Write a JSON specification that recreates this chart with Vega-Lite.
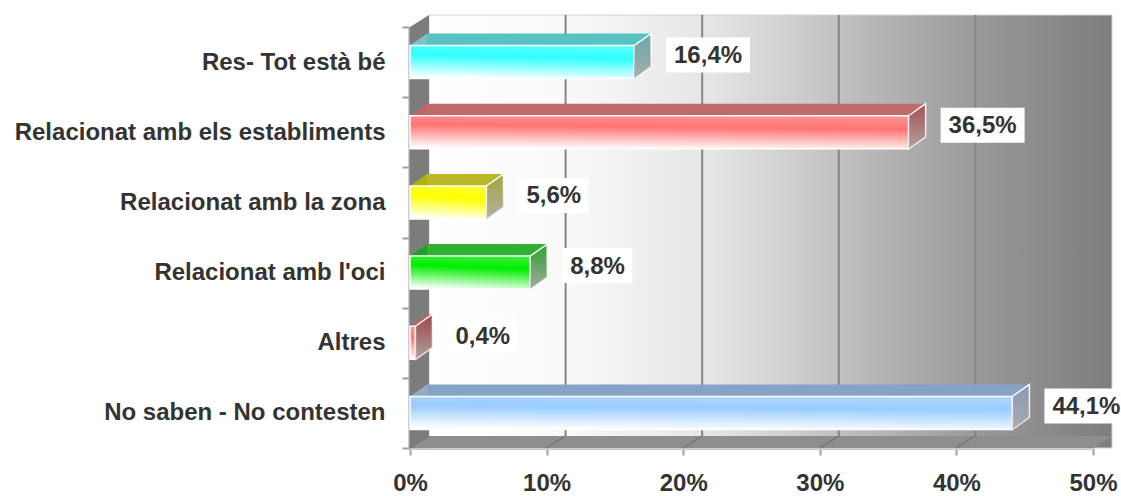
{
  "$schema": "https://vega.github.io/schema/vega-lite/v6.json",
  "width": 683,
  "height": 421,
  "autosize": {"type": "none"},
  "padding": {"left": 410, "top": 27, "right": 28, "bottom": 48},
  "background": "#ffffff",
  "config": {
    "view": {"stroke": null},
    "font": "Liberation Sans",
    "axisX": {
      "domainColor": "#c8c8c8",
      "domainWidth": 3,
      "tickColor": "#a0a0a0",
      "tickSize": 7,
      "tickWidth": 2,
      "labelFont": "Liberation Sans",
      "labelFontWeight": "bold",
      "labelFontSize": 24,
      "labelColor": "#333333",
      "labelPadding": 16,
      "labelFlush": false,
      "labelOverlap": false,
      "grid": false
    },
    "axisY": {
      "domainColor": "#a0a0a0",
      "domainWidth": 2,
      "tickBand": "extent",
      "tickColor": "#a0a0a0",
      "tickSize": 7,
      "tickWidth": 2,
      "labelFont": "Liberation Sans",
      "labelFontWeight": "bold",
      "labelFontSize": 24,
      "labelColor": "#333333",
      "labelPadding": 17,
      "labelLimit": 0,
      "offset": 1,
      "grid": false
    }
  },
  "data": {
    "values": [
      {"cat": "Res- Tot està bé", "value": 16.4, "label": "16,4%"},
      {"cat": "Relacionat amb els establiments", "value": 36.5, "label": "36,5%"},
      {"cat": "Relacionat amb la zona", "value": 5.6, "label": "5,6%"},
      {"cat": "Relacionat amb l'oci", "value": 8.8, "label": "8,8%"},
      {"cat": "Altres", "value": 0.4, "label": "0,4%"},
      {"cat": "No saben - No contesten", "value": 44.1, "label": "44,1%"}
    ]
  },
  "resolve": {"scale": {"color": "independent"}},
  "layer": [
    {
      "data": {"values": [{"wall": "back"}]},
      "mark": {
        "type": "rect",
        "xOffset": 19, "x2Offset": 19, "yOffset": -12, "y2Offset": -12,
        "stroke": "#d4d4d4", "strokeWidth": 1,
        "fill": {
          "gradient": "linear", "x1": 0, "y1": 0, "x2": 1, "y2": 0,
          "stops": [
            {"offset": 0, "color": "#ffffff"},
            {"offset": 0.2, "color": "#f9f9f9"},
            {"offset": 0.42, "color": "#e4e4e4"},
            {"offset": 0.62, "color": "#bdbdbd"},
            {"offset": 0.82, "color": "#969696"},
            {"offset": 1, "color": "#7e7e7e"}
          ]
        }
      },
      "encoding": {
        "x": {"datum": 0, "type": "quantitative", "title": null, "scale": {"domain": [0, 50], "nice": false},
              "axis": {"values": [0, 10, 20, 30, 40, 50], "labelExpr": "datum.value + '%'"}},
        "x2": {"datum": 50}
      }
    },
    {
      "data": {"values": [{"t": 10}, {"t": 20}, {"t": 30}, {"t": 40}]},
      "mark": {"type": "rule", "stroke": "#858585", "strokeWidth": 2, "xOffset": 19, "yOffset": -12, "y2Offset": -12},
      "encoding": {"x": {"field": "t", "type": "quantitative", "title": null,
                         "axis": {"values": [0, 10, 20, 30, 40, 50], "labelExpr": "datum.value + '%'"}}}
    },
    {
      "data": {"values": [{"wall": "left"}]},
      "mark": {"type": "point", "shape": "M0,-35L19,-47L19,374L0,386Z", "size": 4, "filled": true, "fill": "#7c7c7c", "opacity": 1, "strokeWidth": 0},
      "encoding": {
        "x": {"datum": 0, "type": "quantitative", "title": null,
              "axis": {"values": [0, 10, 20, 30, 40, 50], "labelExpr": "datum.value + '%'"}},
        "y": {"datum": "Res- Tot està bé", "type": "nominal", "title": null}
      }
    },
    {
      "data": {"values": [{"wall": "floor"}]},
      "mark": {"type": "point", "shape": "M0,35L683,35L702,23L19,23Z", "size": 4, "filled": true, "fill": "#8e8e8e", "opacity": 1, "strokeWidth": 0},
      "encoding": {
        "x": {"datum": 0, "type": "quantitative", "title": null,
              "axis": {"values": [0, 10, 20, 30, 40, 50], "labelExpr": "datum.value + '%'"}},
        "y": {"datum": "No saben - No contesten", "type": "nominal", "title": null}
      }
    },
    {
      "data": {"values": [{"t": 0}, {"t": 10}, {"t": 20}, {"t": 30}, {"t": 40}]},
      "mark": {"type": "point", "shape": "M0,35L19,23", "size": 4, "filled": false, "stroke": "#777777", "strokeWidth": 1.5, "opacity": 1},
      "encoding": {
        "x": {"field": "t", "type": "quantitative", "title": null,
              "axis": {"values": [0, 10, 20, 30, 40, 50], "labelExpr": "datum.value + '%'"}},
        "y": {"datum": "No saben - No contesten", "type": "nominal", "title": null}
      }
    },
    {
      "mark": {"type": "bar", "height": 12, "yOffset": -22.5, "xOffset": 17, "x2Offset": 17},
      "encoding": {
        "x": {"field": "value", "type": "quantitative", "title": null,
              "axis": {"values": [0, 10, 20, 30, 40, 50], "labelExpr": "datum.value + '%'"}},
        "y": {"field": "cat", "type": "nominal", "title": null, "sort": null,
              "scale": {"domain": ["Res- Tot està bé", "Relacionat amb els establiments", "Relacionat amb la zona", "Relacionat amb l'oci", "Altres", "No saben - No contesten"], "paddingInner": 0, "paddingOuter": 0}},
        "color": {"field": "cat", "type": "nominal", "legend": null,
                  "scale": {"domain": ["Res- Tot està bé", "Relacionat amb els establiments", "Relacionat amb la zona", "Relacionat amb l'oci", "Altres", "No saben - No contesten"],
                            "range": ["#58c2c2", "#c06a6a", "#b8b828", "#30b030", "#c06060", "#86a2c4"]}}
      }
    },
    {
      "mark": {"type": "point", "shape": "M0,-16.5L17,-28.5L17,-16.5Z", "size": 4, "filled": true, "opacity": 1, "strokeWidth": 0},
      "encoding": {
        "x": {"datum": 0, "type": "quantitative", "title": null,
              "axis": {"values": [0, 10, 20, 30, 40, 50], "labelExpr": "datum.value + '%'"}},
        "y": {"field": "cat", "type": "nominal", "title": null},
        "color": {"field": "cat", "type": "nominal", "legend": null,
                  "scale": {"domain": ["Res- Tot està bé", "Relacionat amb els establiments", "Relacionat amb la zona", "Relacionat amb l'oci", "Altres", "No saben - No contesten"],
                            "range": ["#7cc4c4", "#c06464", "#b0b010", "#20a020", "#c06060", "#94aac6"]}}
      }
    },
    {
      "mark": {"type": "bar", "height": 33, "stroke": "#ffffff", "strokeWidth": 1.5},
      "encoding": {
        "x": {"field": "value", "type": "quantitative", "title": null,
              "axis": {"values": [0, 10, 20, 30, 40, 50], "labelExpr": "datum.value + '%'"}},
        "y": {"field": "cat", "type": "nominal", "title": null},
        "color": {"field": "cat", "type": "nominal", "legend": null,
                  "scale": {"domain": ["Res- Tot està bé", "Relacionat amb els establiments", "Relacionat amb la zona", "Relacionat amb l'oci", "Altres", "No saben - No contesten"],
                            "range": ["#30ffff", "#ff7474", "#ffff00", "#00ee00", "#ff7a7a", "#99ccff"]}}
      }
    },
    {
      "mark": {"type": "bar", "height": 33,
               "fill": {"gradient": "linear", "x1": 0.6, "y1": 0, "x2": 0.45, "y2": 1,
                        "stops": [
                          {"offset": 0, "color": "rgba(255,255,255,0.2)"},
                          {"offset": 0.35, "color": "rgba(255,255,255,0)"},
                          {"offset": 1, "color": "rgba(255,255,255,0.97)"}
                        ]}},
      "encoding": {
        "x": {"field": "value", "type": "quantitative", "title": null,
              "axis": {"values": [0, 10, 20, 30, 40, 50], "labelExpr": "datum.value + '%'"}},
        "y": {"field": "cat", "type": "nominal", "title": null}
      }
    },
    {
      "mark": {"type": "point", "shape": "M0,-16.5L17,-28.5L17,4.5L0,16.5Z", "size": 4, "filled": true, "opacity": 1, "stroke": "#ffffff", "strokeWidth": 1.5},
      "encoding": {
        "x": {"field": "value", "type": "quantitative", "title": null,
              "axis": {"values": [0, 10, 20, 30, 40, 50], "labelExpr": "datum.value + '%'"}},
        "y": {"field": "cat", "type": "nominal", "title": null},
        "color": {"field": "cat", "type": "nominal", "legend": null,
                  "scale": {"domain": ["Res- Tot està bé", "Relacionat amb els establiments", "Relacionat amb la zona", "Relacionat amb l'oci", "Altres", "No saben - No contesten"],
                            "range": ["#6aa8a8", "#a85050", "#a8a840", "#30a030", "#a04848", "#8898b4"]}}
      }
    },
    {
      "mark": {"type": "point", "shape": "M0,-16.5L17,-28.5L17,4.5L0,16.5Z", "size": 4, "filled": true, "opacity": 1, "strokeWidth": 0,
               "fill": {"gradient": "linear", "x1": 0, "y1": 0, "x2": 0, "y2": 1,
                        "stops": [
                          {"offset": 0, "color": "rgba(170,170,170,0)"},
                          {"offset": 1, "color": "rgba(178,178,178,0.85)"}
                        ]}},
      "encoding": {
        "x": {"field": "value", "type": "quantitative", "title": null,
              "axis": {"values": [0, 10, 20, 30, 40, 50], "labelExpr": "datum.value + '%'"}},
        "y": {"field": "cat", "type": "nominal", "title": null}
      }
    },
    {
      "transform": [{"filter": "length(datum.label) == 5"}],
      "mark": {"type": "bar", "height": 35, "yOffset": -7, "xOffset": 32, "x2Offset": 116, "fill": "#ffffff"},
      "encoding": {
        "x": {"field": "value", "type": "quantitative", "title": null,
              "axis": {"values": [0, 10, 20, 30, 40, 50], "labelExpr": "datum.value + '%'"}},
        "x2": {"field": "value"},
        "y": {"field": "cat", "type": "nominal", "title": null}
      }
    },
    {
      "transform": [{"filter": "length(datum.label) == 4"}],
      "mark": {"type": "bar", "height": 35, "yOffset": -7, "xOffset": 32, "x2Offset": 102, "fill": "#ffffff"},
      "encoding": {
        "x": {"field": "value", "type": "quantitative", "title": null,
              "axis": {"values": [0, 10, 20, 30, 40, 50], "labelExpr": "datum.value + '%'"}},
        "x2": {"field": "value"},
        "y": {"field": "cat", "type": "nominal", "title": null}
      }
    },
    {
      "mark": {"type": "text", "align": "left", "baseline": "middle", "xOffset": 40, "yOffset": -6, "font": "Liberation Sans", "fontWeight": "bold", "fontSize": 24, "fill": "#333333"},
      "encoding": {
        "x": {"field": "value", "type": "quantitative", "title": null,
              "axis": {"values": [0, 10, 20, 30, 40, 50], "labelExpr": "datum.value + '%'"}},
        "y": {"field": "cat", "type": "nominal", "title": null},
        "text": {"field": "label"}
      }
    }
  ]
}
